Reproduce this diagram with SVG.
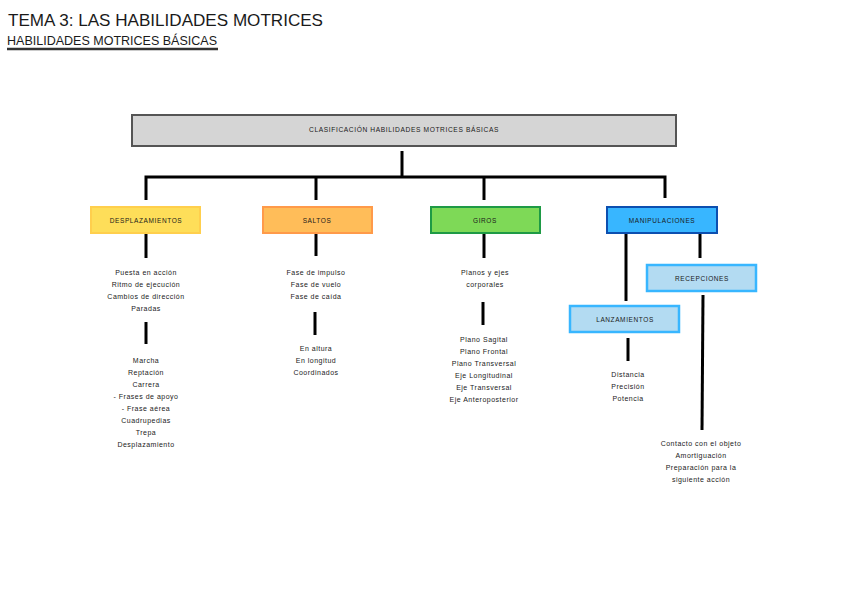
<svg xmlns="http://www.w3.org/2000/svg" width="848" height="600" viewBox="0 0 848 600">
<style>
.t{font-family:"Liberation Sans",Arial,sans-serif;fill:#1a1a1a;}
.title{font-size:16.5px;}
.sub{font-size:13px;}
.lbl{font-size:6.5px;letter-spacing:0.6px;text-anchor:middle;}
.item{font-size:7px;letter-spacing:0.5px;text-anchor:middle;}
.ln{stroke:#000;stroke-width:3;fill:none;stroke-linecap:butt;}
</style>
<rect width="848" height="600" fill="#fff"/>
<text class="t title" x="8" y="26" textLength="315" lengthAdjust="spacingAndGlyphs">TEMA 3: LAS HABILIDADES MOTRICES</text>
<text class="t sub" x="7" y="45" textLength="210" lengthAdjust="spacingAndGlyphs">HABILIDADES MOTRICES BÁSICAS</text>
<line x1="7" y1="49" x2="218" y2="49" stroke="#333" stroke-width="2.5"/>

<g id="connectors">
<polyline class="ln" points="402,151 402,177"/>
<polyline class="ln" points="146,200 146,177 665,177 665,198"/>
<line class="ln" x1="316" y1="177" x2="316" y2="200"/>
<line class="ln" x1="484" y1="177" x2="484" y2="200"/>
<line class="ln" x1="146" y1="234" x2="146" y2="258"/>
<line class="ln" x1="146" y1="322" x2="146" y2="344"/>
<line class="ln" x1="316" y1="234" x2="316" y2="256"/>
<line class="ln" x1="315" y1="312" x2="315" y2="335"/>
<line class="ln" x1="484" y1="234" x2="484" y2="258"/>
<line class="ln" x1="483" y1="302" x2="483" y2="325"/>
<line class="ln" x1="626" y1="234" x2="626" y2="301"/>
<line class="ln" x1="700" y1="234" x2="700" y2="258"/>
<line class="ln" x1="628" y1="338" x2="628" y2="361"/>
<line class="ln" x1="703" y1="295" x2="702" y2="430"/>
</g>

<g id="n-root">
<rect x="132" y="115" width="544" height="31" fill="#d5d5d5" stroke="#555" stroke-width="2"/>
<text class="t lbl" x="404" y="132" textLength="190" lengthAdjust="spacingAndGlyphs">CLASIFICACIÓN HABILIDADES MOTRICES BÁSICAS</text>
</g>

<g id="n-desplazamientos">
<rect x="91" y="207" width="109" height="26" fill="#fede59" stroke="#ffcf4d" stroke-width="2"/>
<text class="t lbl" x="146" y="222.5">DESPLAZAMIENTOS</text>
</g>
<g id="n-saltos">
<rect x="263" y="207" width="109" height="26" fill="#ffbd59" stroke="#ff9a4a" stroke-width="2"/>
<text class="t lbl" x="317" y="222.5">SALTOS</text>
</g>
<g id="n-giros">
<rect x="431" y="207" width="109" height="26" fill="#7ed957" stroke="#1e9a45" stroke-width="2"/>
<text class="t lbl" x="485" y="222.5">GIROS</text>
</g>
<g id="n-manipulaciones">
<rect x="607" y="207" width="110" height="26" fill="#38b6ff" stroke="#0c4fb0" stroke-width="2"/>
<text class="t lbl" x="662" y="222.5">MANIPULACIONES</text>
</g>
<g id="n-recepciones">
<rect x="647" y="265" width="109" height="26" fill="#b3dbf2" stroke="#38b6ff" stroke-width="2.5"/>
<text class="t lbl" x="702" y="280.5">RECEPCIONES</text>
</g>
<g id="n-lanzamientos">
<rect x="570" y="306" width="109" height="26" fill="#b3dbf2" stroke="#38b6ff" stroke-width="2.5"/>
<text class="t lbl" x="625" y="321.5">LANZAMIENTOS</text>
</g>

<g id="t-desplazamientos-1" class="t item">
<text x="146" y="275">Puesta en acción</text>
<text x="146" y="287">Ritmo de ejecución</text>
<text x="146" y="299">Cambios de dirección</text>
<text x="146" y="311">Paradas</text>
</g>
<g id="t-desplazamientos-2" class="t item">
<text x="146" y="363">Marcha</text>
<text x="146" y="375">Reptación</text>
<text x="146" y="387">Carrera</text>
<text x="146" y="399">- Frases de apoyo</text>
<text x="146" y="411">- Frase aérea</text>
<text x="146" y="423">Cuadrupedias</text>
<text x="146" y="435">Trepa</text>
<text x="146" y="447">Desplazamiento</text>
</g>
<g id="t-saltos-1" class="t item">
<text x="316" y="275">Fase de impulso</text>
<text x="316" y="287">Fase de vuelo</text>
<text x="316" y="299">Fase de caída</text>
</g>
<g id="t-saltos-2" class="t item">
<text x="316" y="351">En altura</text>
<text x="316" y="363">En longitud</text>
<text x="316" y="375">Coordinados</text>
</g>
<g id="t-giros-1" class="t item">
<text x="485" y="275">Planos y ejes</text>
<text x="485" y="287">corporales</text>
</g>
<g id="t-giros-2" class="t item">
<text x="484" y="342">Plano Sagital</text>
<text x="484" y="354">Plano Frontal</text>
<text x="484" y="366">Plano Transversal</text>
<text x="484" y="378">Eje Longitudinal</text>
<text x="484" y="390">Eje Transversal</text>
<text x="484" y="402">Eje Anteroposterior</text>
</g>
<g id="t-lanzamientos" class="t item">
<text x="628" y="377">Distancia</text>
<text x="628" y="389">Precisión</text>
<text x="628" y="401">Potencia</text>
</g>
<g id="t-recepciones" class="t item">
<text x="701" y="446">Contacto con el objeto</text>
<text x="701" y="458">Amortiguación</text>
<text x="701" y="470">Preparación para la</text>
<text x="701" y="482">siguiente acción</text>
</g>
</svg>
